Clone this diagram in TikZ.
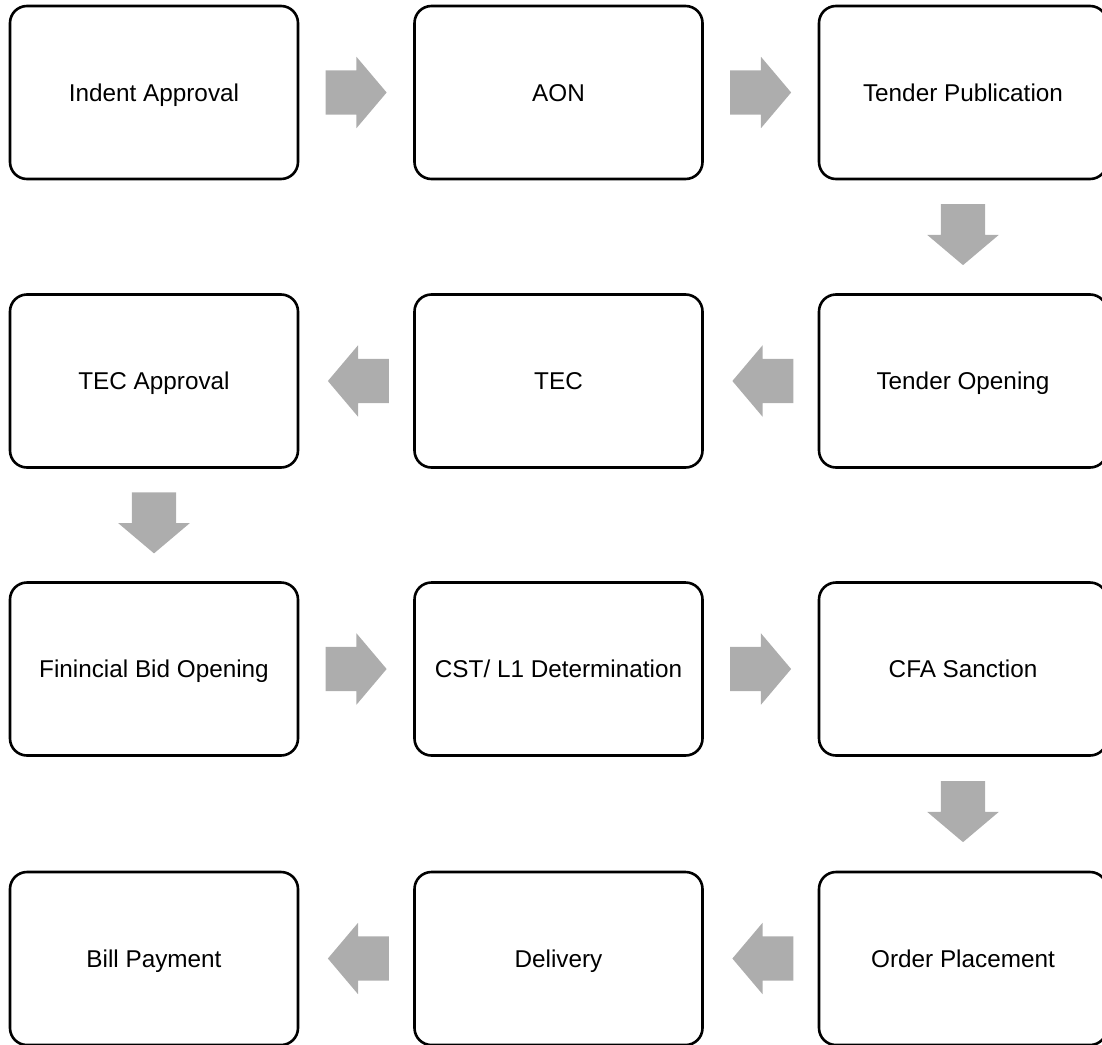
\documentclass[tikz,border=0pt]{standalone}
\usepackage{fontspec}
\setmainfont{Liberation Sans}
\usetikzlibrary{shapes.arrows,calc}
\definecolor{flowgray}{RGB}{173,173,173}
\begin{document}
\begin{tikzpicture}[x=1pt,y=-1pt,
  stepbox/.style={draw=black,line width=2.6pt,rounded corners=17pt,
    minimum width=288pt,minimum height=173pt,inner sep=0pt,
    font=\fontsize{24.3}{29}\selectfont,text height=17.5pt,text depth=0pt},
  flowarrow/.style={single arrow,fill=flowgray,draw=none,
    text height=0pt,text depth=0pt,text width=0pt,
    inner xsep=0pt,inner ysep=22pt,
    minimum width=71pt,minimum height=61pt,
    single arrow head extend=13.5pt,single arrow tip angle=99.6},
  toright/.style={flowarrow},
  toleft/.style={flowarrow,rotate=180},
  todown/.style={flowarrow,rotate=-90}]
\clip (0,0) rectangle (1102,1044);

% process steps, snaking left-right-left
\node[stepbox] (s1)  at (154,92.5)   {Indent Approval};
\node[stepbox] (s2)  at (558.5,92.5) {AON};
\node[stepbox] (s3)  at (963,92.5)   {Tender Publication};
\node[stepbox] (s4)  at (963,381)    {Tender Opening};
\node[stepbox] (s5)  at (558.5,381)  {TEC};
\node[stepbox] (s6)  at (154,381)    {TEC Approval};
\node[stepbox] (s7)  at (154,669)    {Finincial Bid Opening};
\node[stepbox] (s8)  at (558.5,669)  {CST/ L1 Determination};
\node[stepbox] (s9)  at (963,669)    {CFA Sanction};
\node[stepbox] (s10) at (963,958.5)  {Order Placement};
\node[stepbox] (s11) at (558.5,958.5){Delivery};
\node[stepbox] (s12) at (154,958.5)  {Bill Payment};

% block arrows between consecutive steps (the arrow's centre anchor sits
% nearer its tip, hence the small offsets back toward the tail)
\node[toright] (a1)  at ($(s1.east)!0.5!(s2.west)+(-9.5,0)$) {};
\node[toright] (a2)  at ($(s2.east)!0.5!(s3.west)+(-9.5,0)$) {};
\node[todown]  (a3)  at ($(s3.south)!0.5!(s4.north)+(0,-11.5)$) {};
\node[toleft]  (a4)  at ($(s4.west)!0.5!(s5.east)+(11.5,0)$) {};
\node[toleft]  (a5)  at ($(s5.west)!0.5!(s6.east)+(11.5,0)$) {};
\node[todown]  (a6)  at ($(s6.south)!0.5!(s7.north)+(0,-11.5)$) {};
\node[toright] (a7)  at ($(s7.east)!0.5!(s8.west)+(-9.5,0)$) {};
\node[toright] (a8)  at ($(s8.east)!0.5!(s9.west)+(-9.5,0)$) {};
\node[todown]  (a9)  at ($(s9.south)!0.5!(s10.north)+(0,-11.5)$) {};
\node[toleft]  (a10) at ($(s10.west)!0.5!(s11.east)+(11.5,0)$) {};
\node[toleft]  (a11) at ($(s11.west)!0.5!(s12.east)+(11.5,0)$) {};
\end{tikzpicture}
\end{document}
